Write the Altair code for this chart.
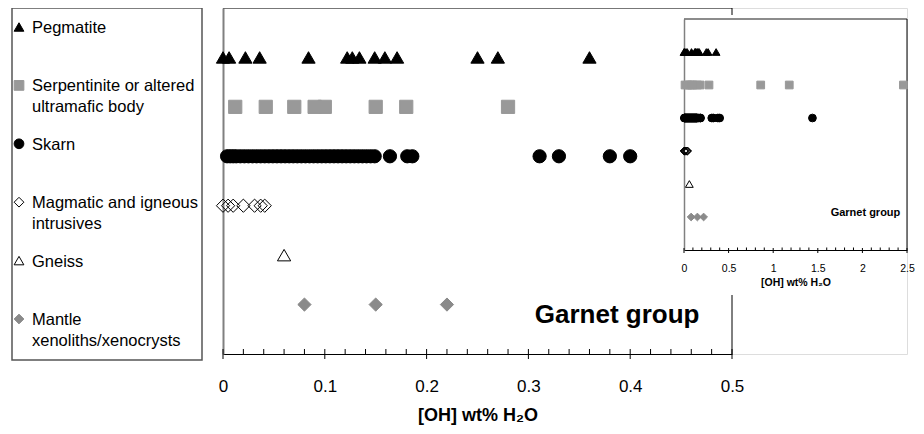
import altair as alt
import pandas as pd

FONT = "Liberation Sans"

# ---------------- data ----------------
CATEGORIES = [
    "Pegmatite",
    "Serpentinite or altered ultramafic body",
    "Skarn",
    "Magmatic and igneous intrusives",
    "Gneiss",
    "Mantle xenoliths/xenocrysts",
]
LEGEND_LABELS = [
    "Pegmatite",
    "Serpentinite or altered\nultramafic body",
    "Skarn",
    "Magmatic and igneous\nintrusives",
    "Gneiss",
    "Mantle\nxenoliths/xenocrysts",
]

pegmatite = [0.0, 0.006, 0.022, 0.036, 0.084, 0.122, 0.127, 0.134, 0.149,
             0.159, 0.171, 0.25, 0.27, 0.36]
serpentinite = [0.012, 0.042, 0.07, 0.09, 0.10, 0.15, 0.18, 0.28, 0.86, 1.18, 2.46]
skarn = [0.004, 0.007, 0.01, 0.013, 0.017, 0.021, 0.025, 0.029, 0.033, 0.037,
         0.041, 0.045, 0.049, 0.053, 0.057, 0.061, 0.065, 0.069, 0.073, 0.077,
         0.081, 0.085, 0.089, 0.093, 0.097, 0.101, 0.105, 0.109, 0.113, 0.117,
         0.121, 0.125, 0.129, 0.133, 0.137, 0.141, 0.145, 0.149, 0.164, 0.181,
         0.186, 0.311, 0.33, 0.38, 0.40, 1.44]
magmatic = [0.0, 0.005, 0.01, 0.02, 0.031, 0.037, 0.041]
gneiss = [0.06]
mantle = [0.08, 0.15, 0.22]

MAIN_TICKS = [0, 0.1, 0.2, 0.3, 0.4, 0.5]
INSET_TICKS = [0, 0.5, 1, 1.5, 2, 2.5]

# ---------------- styles ----------------
SHAPES = ["triangle-up", "square", "circle", "diamond", "triangle-up", "diamond"]
FILLS = ["black", "#999999", "black", "transparent", "transparent", "#8a8a8a"]
STROKES = ["black", "#999999", "black", "black", "black", "#8a8a8a"]

series = [pegmatite, serpentinite, skarn, magmatic, gneiss, mantle]
df = pd.DataFrame(
    [(c, v) for c, vals in zip(CATEGORIES, series) for v in vals],
    columns=["category", "value"],
)
legend_df = pd.DataFrame({"category": CATEGORIES, "label": LEGEND_LABELS})

shape_enc = alt.Shape("category:N", scale=alt.Scale(domain=CATEGORIES, range=SHAPES), legend=None)
fill_enc = alt.Fill("category:N", scale=alt.Scale(domain=CATEGORIES, range=FILLS), legend=None)
stroke_enc = alt.Stroke("category:N", scale=alt.Scale(domain=CATEGORIES, range=STROKES), legend=None)

W, H = 684, 346          # plot area of the layered (main + inset) chart
MAIN_W = 509             # pixel width of main x range
INSET_RANGE_X = [461, 684]
INSET_RANGE_Y = [11, 242]

# ---------------- main plot ----------------
main_x_scale = alt.Scale(domain=[0, 0.5], range=[0, MAIN_W], nice=False, zero=False)
main_x_axis = alt.Axis(
    values=MAIN_TICKS, title="[OH] wt% H₂O", ticks=False, tickSize=0,
    labelExpr="'' + datum.value",
    labelPadding=24, labelFontSize=17, labelFont=FONT, labelColor="black",
    labelFlush=False, labelOverlap=False, labelBound=False,
    domainColor="black", domainWidth=1, grid=False,
    titleFontSize=18, titleFont=FONT, titleFontWeight="bold", titleColor="black",
    titlePadding=12,
)
main_y_scale = alt.Scale(type="point", domain=CATEGORIES, padding=1)
main_y_axis = alt.Axis(labels=False, ticks=False, title=None, grid=False,
                       domainColor="#808080", domainWidth=2, minExtent=0, maxExtent=0)


def mx(field):
    return alt.X(field, type="quantitative", scale=main_x_scale, axis=main_x_axis)


def mxd(v):
    return alt.XDatum(v, type="quantitative", scale=main_x_scale, axis=main_x_axis)


main_y = alt.Y("category:N", sort=CATEGORIES, scale=main_y_scale, axis=main_y_axis)

main_points = alt.Chart(df).transform_filter("datum.value <= 0.5").mark_point(
    opacity=1, size=175, strokeWidth=1
).encode(x=mx("value"), y=main_y, shape=shape_enc, fill=fill_enc, stroke=stroke_enc)

seq_main = alt.sequence(0, 26, 1, as_="i")
main_major = alt.Chart(seq_main).transform_filter("datum.i % 5 == 0").transform_calculate(
    value="datum.i * 0.02"
).mark_rule(strokeWidth=1, color="black").encode(
    x=mx("value"), y=alt.value(H - 5), y2=alt.value(H + 5)
)
main_minor = alt.Chart(seq_main).transform_filter("datum.i % 5 != 0").transform_calculate(
    value="datum.i * 0.02"
).mark_rule(strokeWidth=1, color="black").encode(
    x=mx("value"), y=alt.value(H - 5), y2=alt.value(H)
)

one = alt.Data(values=[{}])
main_top = alt.Chart(one).mark_rule(color="#555555", strokeWidth=1.5).encode(
    x=mxd(0), x2=alt.X2Datum(0.5), y=alt.value(0)
)
main_right_a = alt.Chart(one).mark_rule(color="black", strokeWidth=1).encode(
    x=mxd(0.5), y=alt.value(0), y2=alt.value(7)
)
main_right_b = alt.Chart(one).mark_rule(color="black", strokeWidth=1).encode(
    x=mxd(0.5), y=alt.value(287), y2=alt.value(H)
)
main_label = alt.Chart(one).mark_text(
    text="Garnet group", align="right", baseline="middle", fontSize=26,
    fontWeight="bold", font=FONT, color="black", dy=10
).encode(x=mxd(0.468), y=alt.YDatum(CATEGORIES[5], type="nominal", scale=main_y_scale, axis=main_y_axis))

main_group = alt.layer(main_top, main_right_a, main_right_b, main_points,
                       main_minor, main_major, main_label)

# ---------------- inset ----------------
inset_x_scale = alt.Scale(domain=[0, 2.5], range=INSET_RANGE_X, nice=False, zero=False)
inset_x_axis = alt.Axis(
    orient="bottom", offset=-(H - INSET_RANGE_Y[1]), values=INSET_TICKS,
    title="[OH] wt% H₂O", ticks=False, tickSize=0,
    labelExpr="'' + datum.value",
    labelPadding=13, labelFontSize=10.5, labelFont=FONT, labelColor="black",
    labelFlush=False, labelOverlap=False, labelBound=False,
    domainColor="black", domainWidth=1, grid=False,
    titleFontSize=10.5, titleFont=FONT, titleFontWeight="bold", titleColor="black",
    titlePadding=4,
)
inset_y_scale = alt.Scale(type="point", domain=CATEGORIES, padding=1, range=INSET_RANGE_Y)
inset_y_axis = alt.Axis(orient="right", offset=-(W - INSET_RANGE_X[0]), labels=False,
                        ticks=False, title=None, grid=False, domainColor="#808080",
                        domainWidth=1.5, minExtent=0, maxExtent=0)


def ix(field):
    return alt.X(field, type="quantitative", scale=inset_x_scale, axis=inset_x_axis)


def ixd(v):
    return alt.XDatum(v, type="quantitative", scale=inset_x_scale, axis=inset_x_axis)


inset_y = alt.Y("category:N", sort=CATEGORIES, scale=inset_y_scale, axis=inset_y_axis)

inset_points = alt.Chart(df).mark_point(opacity=1, size=60, strokeWidth=1).encode(
    x=ix("value"), y=inset_y, shape=shape_enc, fill=fill_enc, stroke=stroke_enc
)
seq_inset = alt.sequence(0, 26, 1, as_="i")
YB = INSET_RANGE_Y[1]
inset_major = alt.Chart(seq_inset).transform_filter("datum.i % 5 == 0").transform_calculate(
    value="datum.i * 0.1"
).mark_rule(strokeWidth=1, color="black").encode(
    x=ix("value"), y=alt.value(YB - 2), y2=alt.value(YB + 3)
)
inset_minor = alt.Chart(seq_inset).transform_filter("datum.i % 5 != 0").transform_calculate(
    value="datum.i * 0.1"
).mark_rule(strokeWidth=1, color="black").encode(
    x=ix("value"), y=alt.value(YB - 2.5), y2=alt.value(YB)
)
inset_top = alt.Chart(one).mark_rule(color="#666666", strokeWidth=1.5).encode(
    x=ixd(0), x2=alt.X2Datum(2.5), y=alt.value(INSET_RANGE_Y[0])
)
inset_right = alt.Chart(one).mark_rule(color="black", strokeWidth=1).encode(
    x=ixd(2.5), y=alt.value(INSET_RANGE_Y[0]), y2=alt.value(INSET_RANGE_Y[1])
)
inset_label = alt.Chart(one).mark_text(
    text="Garnet group", align="right", baseline="middle", fontSize=11,
    fontWeight="bold", font=FONT, color="black", dy=-4
).encode(x=ixd(2.425), y=alt.YDatum(CATEGORIES[5], type="nominal", scale=inset_y_scale, axis=inset_y_axis))

inset_group = alt.layer(inset_top, inset_right, inset_points, inset_minor, inset_major, inset_label)

plot = alt.layer(main_group, inset_group).resolve_scale(
    x="independent", y="independent"
).resolve_axis(x="independent", y="independent").properties(width=W, height=H)

# ---------------- legend panel ----------------
leg_y = alt.Y("category:N", sort=CATEGORIES,
              scale=alt.Scale(type="point", domain=CATEGORIES, range=[19, 311], padding=0),
              axis=None)
leg_sym = alt.Chart(legend_df).mark_point(opacity=1, size=95, strokeWidth=1).encode(
    x=alt.value(7), y=leg_y, shape=shape_enc, fill=fill_enc, stroke=stroke_enc
)
leg_txt = alt.Chart(legend_df).mark_text(
    align="left", baseline="alphabetic", dy=6, fontSize=16.5, font=FONT,
    lineBreak="\n", lineHeight=21, color="black"
).encode(x=alt.value(20), y=leg_y, text="label:N")
legend = alt.layer(leg_sym, leg_txt).properties(
    width=190, height=352,
    view=alt.ViewBackground(stroke="#555555", strokeWidth=1.5),
)

chart = alt.hconcat(legend, plot, spacing=10).properties(
    padding={"left": 3, "top": -2, "right": 0, "bottom": 0},
).configure_view(stroke=None).configure(font=FONT)

chart.save("out.html", embed_options={"renderer": "svg", "actions": False})
